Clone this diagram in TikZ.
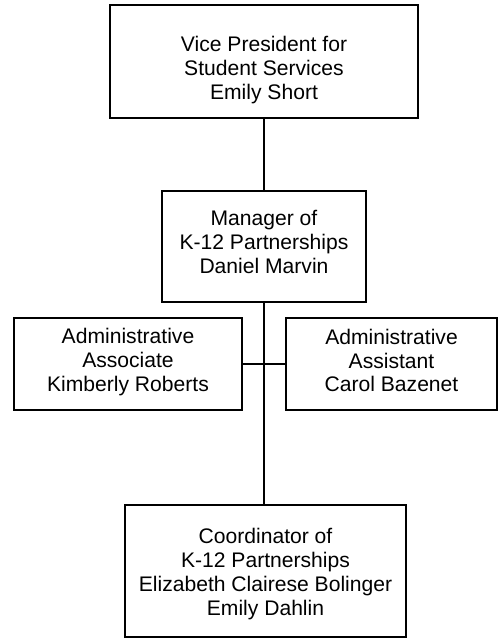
\documentclass[tikz,border=0pt]{standalone}
\usepackage{fontspec}
\setmainfont{Liberation Sans}
\begin{document}
\begin{tikzpicture}[x=1pt,y=-1pt,
  box/.style={draw=black,line width=1.8pt,fill=white,inner sep=0pt},
  txt/.style={align=center,inner sep=0pt,font=\fontsize{21.1}{23.7}\selectfont},
  link/.style={draw=black,line width=1.8pt}]
\useasboundingbox (0,0) rectangle (500,639);
% boxes
\node[box,minimum width=308pt,minimum height=113pt] (vp) at (264,61.5) {};
\node[box,minimum width=204pt,minimum height=111pt] (mgr) at (264,246.5) {};
\node[box,minimum width=228pt,minimum height=92pt] (assoc) at (128,364) {};
\node[box,minimum width=211pt,minimum height=92pt] (asst) at (391.5,364) {};
\node[box,minimum width=281pt,minimum height=132pt] (coord) at (265.5,571) {};
% connectors
\draw[link] (vp.south) -- (mgr.north);
\draw[link] (mgr.south) -- (mgr.south |- coord.north);
\draw[link] (assoc.east) -- (asst.west);
% texts
\node[txt] (vpt) at (264,70) {Vice President for\\Student Services\\Emily Short};
\node[txt] (mgrt) at (264,242) {Manager of\\K-12 Partnerships\\Daniel Marvin};
\node[txt] (assoct) at (128,362) {Administrative\\Associate\\Kimberly Roberts};
\node[txt] (asstt) at (391.5,360.5) {Administrative\\Assistant\\Carol Bazenet};
\node[txt] (coordt) at (265.5,574) {Coordinator of\\K-12 Partnerships\\Elizabeth Clairese Bolinger\\Emily Dahlin};
\end{tikzpicture}
\end{document}
